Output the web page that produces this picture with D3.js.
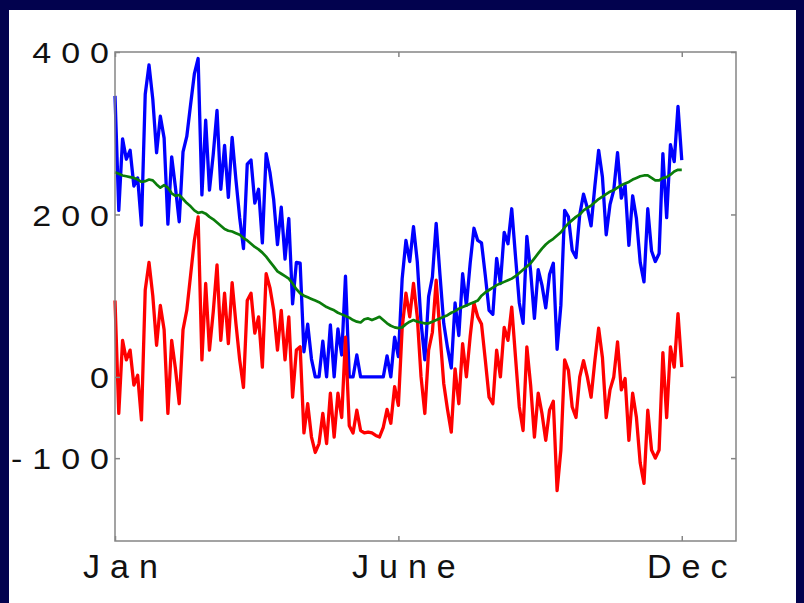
<!DOCTYPE html>
<html>
<head>
<meta charset="utf-8">
<script src="https://cdn.jsdelivr.net/npm/d3@7"></script>
<style>
  html, body { margin: 0; padding: 0; background: #02024e; }
  svg { display: block; }
</style>
</head>
<body>
<script>
// chart values (one point every 2 days, Jan 1 = day 0)
var dayStep = 2;
var red = [94,-45,45,21,33,-10,2,-53,107,141, 100,39,88,58,-45,45,10,-33,58,82,
  125,168,197,21,115,33,80,138,45,103, 41,116,66,21,-13,94,103,54,74,12,
  127,110,82,33,82,21,74,-25,33,37, -69,-33,-74,-93,-82,-45,-82,-20,-74,-20,
  -50,49,-60,-69,-41,-66,-69,-68,-69,-72, -74,-62,-40,-57,-12,-35,60,103,74,115,
  74,0,-45,33,55,119,54,-8,-40,-68, 10,-33,41,0,50,91,74,65,21,-25,
  -33,33,0,61,45,86,24,-37,-66,37, -10,-74,-20,-45,-78,-41,-30,-140,-90,21,
  8,-37,-50,0,20,0,-25,20,60,24, -50,-16,0,43,-16,-2,-78,-20,-50,-106,
  -131,-41,-90,-100,-90,30,-50,37,12,78, 12];
var green = [252,250,248,247,246,245,243,240,241,243, 242,237,233,236,233,226,223,224,219,214,
  210,205,202,203,201,197,194,190,186,182, 180,179,177,175,171,168,164,160,157,153,
  148,142,136,130,127,124,121,115,108,103, 100,98,96,94,92,89,86,84,82,79,
  77,75,73,70,68,67,71,72,70,72, 74,70,66,63,61,60,61,65,68,70,
  68,67,66,66,68,70,72,74,76,79, 81,84,86,88,90,92,94,100,104,107,
  110,113,115,117,119,121,124,128,132,136, 140,146,152,158,163,167,170,174,178,184,
  189,193,197,200,205,208,211,215,219,222, 225,228,230,233,236,238,240,243,245,247,
  248,248,245,242,242,245,246,249,253,255, 255];
var blue = [346,205,293,268,279,235,245,187,348,384, 342,276,321,294,188,271,233,191,277,296,
  335,373,392,224,316,230,274,328,231,285, 221,295,243,196,158,262,267,214,231,165,
  275,252,218,163,209,145,195,90,141,140, 31,65,22,0,0,44,0,64,0,59,
  27,124,0,0,27,0,0,0,0,0, 0,0,26,0,49,25,121,168,142,185,
  142,67,21,99,123,189,126,66,36,11, 91,51,127,88,140,183,168,165,125,82,
  77,146,115,178,164,207,148,91,66,173, 130,72,132,113,85,126,140,34,88,205,
  197,156,147,200,225,208,186,235,279,246, 175,212,230,276,220,236,162,223,195,141,
  117,207,155,142,152,275,196,286,265,333, 267];
var xTicks = [0, 150, 300];
var xLabels = ["Jan", "June", "Dec"];
var yTicks = [-100, 0, 200, 400];

var svgWidth = 804;
var svgHeight = 603;

var svg = d3.select("body")
  .append("svg")
  .attr("width", svgWidth)
  .attr("height", svgHeight);

// navy slide border + white panel
svg.append("rect")
  .attr("width", svgWidth).attr("height", svgHeight)
  .attr("fill", "#02024e");
svg.append("rect")
  .attr("x", 9).attr("y", 10)
  .attr("width", 787).attr("height", 593)
  .attr("fill", "#ffffff");

var x = d3.scaleLinear().domain([0, 328.7]).range([115, 736]);
var y = d3.scaleLinear().domain([-202, 400]).range([541, 52]);

var days = red.map(function(d, i) { return i * dayStep; });

function series(values) {
  return values.map(function(v, i) { return { day: days[i], value: v }; });
}

var drawLine = d3.line()
  .x(function(d) { return x(d.day); })
  .y(function(d) { return y(d.value); });

var lines = [
  { values: blue, color: "#0000ff", width: 3.3 },
  { values: red, color: "#ff0000", width: 3.3 },
  { values: green, color: "#0b7d0b", width: 2.7 }
];

svg.selectAll("path.line")
  .data(lines)
  .enter()
  .append("path")
  .attr("class", "line")
  .attr("d", function(d) { return drawLine(series(d.values)); })
  .attr("fill", "none")
  .attr("stroke", function(d) { return d.color; })
  .attr("stroke-width", function(d) { return d.width; })
  .attr("stroke-linejoin", "round");

// box
svg.append("rect")
  .attr("x", x.range()[0]).attr("y", y.range()[1])
  .attr("width", x.range()[1] - x.range()[0])
  .attr("height", y.range()[0] - y.range()[1])
  .attr("fill", "none")
  .attr("stroke", "#858585")
  .attr("stroke-width", 1.5);

function styleAxis(g) {
  g.select(".domain").remove();
  g.selectAll(".tick line").attr("stroke", "#858585").attr("stroke-width", 1.5);
  g.attr("font-family", "'Liberation Sans', Arial, Helvetica, sans-serif")
    .attr("font-size", 34);
  g.selectAll(".tick text").attr("fill", "#111").style("letter-spacing", "10px");
}

var leftAxis = svg.append("g")
  .attr("transform", "translate(" + x.range()[0] + ",0)")
  .call(d3.axisLeft(y).tickValues(yTicks).tickSize(-5).tickFormat(function(d) { return d; }))
  .call(styleAxis);
leftAxis.selectAll(".tick text")
  .attr("x", 4)
  .attr("dy", "0.36em")
  .attr("text-anchor", "end")
  .attr("transform", "scale(1,0.88)");

svg.append("g")
  .attr("transform", "translate(" + x.range()[1] + ",0)")
  .call(d3.axisRight(y).tickValues(yTicks).tickSize(-5).tickFormat(""))
  .call(styleAxis);

var bottomAxis = svg.append("g")
  .attr("transform", "translate(0," + y.range()[0] + ")")
  .call(d3.axisBottom(x).tickValues(xTicks).tickSize(-5).tickFormat(function(d, i) { return xLabels[i]; }))
  .call(styleAxis);
bottomAxis.selectAll(".tick text")
  .attr("x", 10)
  .attr("y", 37)
  .attr("dy", 0)
  .attr("text-anchor", "middle");

svg.append("g")
  .attr("transform", "translate(0," + y.range()[1] + ")")
  .call(d3.axisTop(x).tickValues(xTicks).tickSize(-5).tickFormat(""))
  .call(styleAxis);
</script>
</body>
</html>
